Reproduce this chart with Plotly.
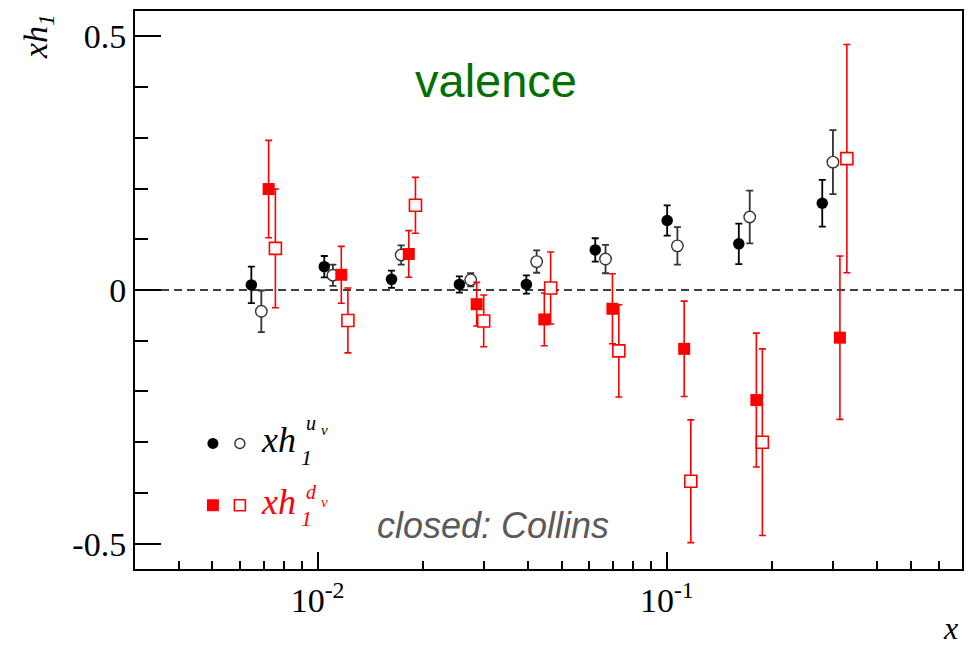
import plotly.graph_objects as go

# ---- data ----
x_uv_collins = [0.00646, 0.01045, 0.01628, 0.02547, 0.03960, 0.06237, 0.1002, 0.1607, 0.2786]
h_uv_collins = [0.010, 0.046, 0.021, 0.011, 0.011, 0.079, 0.137, 0.091, 0.171]
e_uv_collins = [0.036, 0.021, 0.017, 0.016, 0.018, 0.023, 0.030, 0.040, 0.046]

x_uv_other = [0.00690, 0.01106, 0.01735, 0.02744, 0.04238, 0.06674, 0.1072, 0.1727, 0.2989]
h_uv_other = [-0.042, 0.029, 0.069, 0.020, 0.056, 0.061, 0.087, 0.144, 0.252]
e_uv_other = [0.041, 0.021, 0.019, 0.013, 0.022, 0.028, 0.037, 0.052, 0.063]

x_dv_collins = [0.00724, 0.01169, 0.01824, 0.02854, 0.04458, 0.06985, 0.1121, 0.1804, 0.3130]
h_dv_collins = [0.199, 0.030, 0.071, -0.028, -0.058, -0.037, -0.116, -0.217, -0.094]
e_dv_collins = [0.096, 0.056, 0.046, 0.043, 0.052, 0.069, 0.094, 0.132, 0.161]

x_dv_other = [0.00757, 0.01221, 0.01906, 0.02989, 0.04647, 0.07286, 0.1171, 0.1877, 0.3277]
h_dv_other = [0.082, -0.060, 0.167, -0.061, 0.004, -0.120, -0.377, -0.300, 0.259]
e_dv_other = [0.117, 0.064, 0.055, 0.051, 0.071, 0.091, 0.121, 0.184, 0.225]

x_tick_vals = [0.01, 0.1]
x_tick_text = ["10<sup>-2</sup>", "10<sup>-1</sup>"]
x_minor_vals = [m * 10.0 ** d for d in (-3, -2, -1) for m in range(2, 10)]
y_tick_vals = [-0.5, 0, 0.5]
y_tick_text = ["-0.5", "0", "0.5"]
y_minor_vals = [-0.4, -0.3, -0.2, -0.1, 0.1, 0.2, 0.3, 0.4]

# ---- geometry ----
W, H = 973, 645
ML, MR, MT, MB = 135, 10, 9, 76
PW, PH = W - ML - MR, H - MT - MB


def fx(px):
    return (px - ML) / PW


def fy(py):
    return (H - MB - py) / PH


SERIF = "Times New Roman, Liberation Serif, Times, serif"
SANS = "Arial, Liberation Sans, sans-serif"
RED = "#ff0000"

fig = go.Figure()


def add_series(x, y, e, symbol, size, fill, line_col, line_w, bar_col, bar_w):
    fig.add_trace(go.Scatter(
        x=x, y=y, mode="markers",
        marker=dict(symbol=symbol, size=size, color=fill,
                    line=dict(color=line_col, width=line_w)),
        error_y=dict(type="data", array=e, visible=True, color=bar_col,
                     thickness=bar_w, width=3.5),
        showlegend=False, hoverinfo="x+y",
    ))


add_series(x_uv_other, h_uv_other, e_uv_other, "circle", 11.5, "white", "#333333", 1.4, "#333333", 1.8)
add_series(x_uv_collins, h_uv_collins, e_uv_collins, "circle", 11.5, "black", "black", 0, "black", 1.8)
add_series(x_dv_collins, h_dv_collins, e_dv_collins, "square", 12, RED, RED, 0, RED, 1.6)
add_series(x_dv_other, h_dv_other, e_dv_other, "square", 12, "white", RED, 1.6, RED, 1.6)

# zero line
fig.add_shape(type="line", xref="paper", yref="y", x0=0, x1=1, y0=0, y1=0,
              line=dict(color="black", width=1.6, dash="8px,5px"), layer="below")

# legend glyphs
r = 5.5
fig.add_shape(type="circle", xref="paper", yref="paper",
              x0=fx(213 - r), x1=fx(213 + r), y0=fy(443 + r), y1=fy(443 - r),
              fillcolor="black", line=dict(color="black", width=0))
fig.add_shape(type="circle", xref="paper", yref="paper",
              x0=fx(240 - 5), x1=fx(240 + 5), y0=fy(443 + 5), y1=fy(443 - 5),
              fillcolor="white", line=dict(color="#333333", width=1.4))
s = 6
fig.add_shape(type="rect", xref="paper", yref="paper",
              x0=fx(213 - s), x1=fx(213 + s), y0=fy(505 + s), y1=fy(505 - s),
              fillcolor=RED, line=dict(color=RED, width=0))
fig.add_shape(type="rect", xref="paper", yref="paper",
              x0=fx(240 - 5.5), x1=fx(240 + 5.5), y0=fy(505 + 5.5), y1=fy(505 - 5.5),
              fillcolor="white", line=dict(color=RED, width=1.6))


def ann(text, px, py, size, color="black", family=SERIF, xanchor="left", angle=0):
    fig.add_annotation(text=text, xref="paper", yref="paper", x=fx(px), y=fy(py),
                       xanchor=xanchor, yanchor="middle", showarrow=False,
                       textangle=angle, font=dict(family=family, size=size, color=color))


# legend texts
ann("<i>xh</i>", 259, 440, 36)
ann("<i>1</i>", 299, 457, 22)
ann("<i>u</i>", 304, 422, 20)
ann("<i>v</i>", 319, 430, 15)
ann("<i>xh</i>", 259, 502, 36, RED)
ann("<i>1</i>", 299, 518, 22, RED)
ann("<i>d</i>", 304, 492, 20, RED)
ann("<i>v</i>", 319, 502, 15, RED)

# labels
ann("valence", 496, 79, 47, "#007000", SANS, "center")
ann("<i>closed: Collins</i>", 493, 525, 36, "#595959", SANS, "center")
ann("<i>xh</i><sub><i>1</i></sub>", 38, 35, 34, "black", SERIF, "center", -90)
ann("<i>x</i>", 951, 628, 32, "black", SERIF, "center")

fig.update_layout(
    width=W, height=H,
    margin=dict(l=ML, r=MR, t=MT, b=MB),
    paper_bgcolor="white", plot_bgcolor="white",
    xaxis=dict(
        type="log", range=[-2.5229, -0.1549],
        tickmode="array", tickvals=x_tick_vals, ticktext=x_tick_text,
        ticks="inside", ticklen=17, tickwidth=1.5, tickcolor="black",
        minor=dict(tickmode="array", tickvals=x_minor_vals, ticks="inside",
                   ticklen=8, tickwidth=1.5, tickcolor="black", showgrid=False),
        showline=True, linecolor="black", linewidth=2, mirror=True,
        showgrid=False, zeroline=False,
        tickfont=dict(family=SERIF, size=34, color="black"),
    ),
    yaxis=dict(
        range=[-0.55, 0.55],
        tickmode="array", tickvals=y_tick_vals, ticktext=y_tick_text,
        ticks="inside", ticklen=26, tickwidth=1.5, tickcolor="black",
        minor=dict(tickmode="array", tickvals=y_minor_vals, ticks="inside",
                   ticklen=13, tickwidth=1.5, tickcolor="black", showgrid=False),
        showline=True, linecolor="black", linewidth=2, mirror=True,
        showgrid=False, zeroline=False,
        tickfont=dict(family=SERIF, size=34, color="black"),
    ),
)

fig.write_html("out.html")
